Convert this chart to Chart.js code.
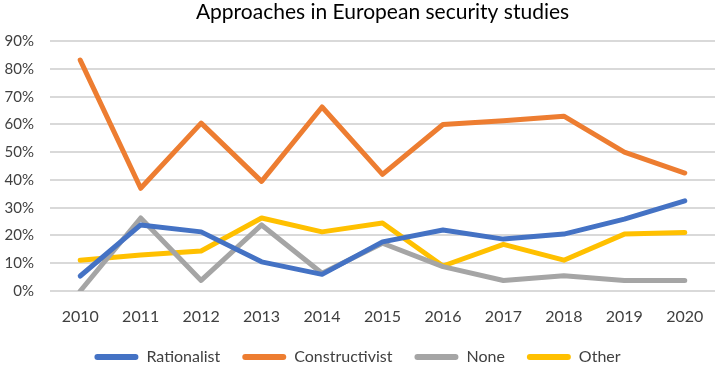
<!DOCTYPE html>
<html>
<head>
<meta charset="utf-8">
<script src="https://cdn.jsdelivr.net/npm/chart.js@4.4.1/dist/chart.umd.min.js"></script>
<style>
  html, body { margin: 0; padding: 0; background: #fff; }
  #wrap { width: 718px; height: 369px; }
</style>
</head>
<body>
<div id="wrap"><canvas id="chart"></canvas></div>
<script>
// years on the x axis
const years = ["2010", "2011", "2012", "2013", "2014", "2015", "2016", "2017", "2018", "2019", "2020"];

// shares (fractions)
const rationalist = [0.054, 0.238, 0.213, 0.105, 0.060, 0.177, 0.220, 0.187, 0.205, 0.259, 0.325];
const constructivist = [0.832, 0.370, 0.605, 0.395, 0.663, 0.420, 0.600, 0.613, 0.630, 0.500, 0.425];
const none = [0.000, 0.263, 0.038, 0.238, 0.064, 0.172, 0.088, 0.038, 0.055, 0.038, 0.038];
const other = [0.111, 0.130, 0.144, 0.263, 0.213, 0.245, 0.090, 0.168, 0.111, 0.205, 0.211];

const FONT = "Lato, 'Open Sans', sans-serif";

function line(label, data, color) {
  return {
    label: label,
    data: data,
    borderColor: color,
    backgroundColor: color,
    borderWidth: 5,
    pointRadius: 0,
    tension: 0,
    borderCapStyle: "round",
    borderJoinStyle: "round",
    fill: false
  };
}

const ctx = document.getElementById("chart").getContext("2d");

new Chart(ctx, {
  type: "line",
  data: {
    labels: years,
    datasets: [
      line("Rationalist", rationalist, "#4472C4"),
      line("Constructivist", constructivist, "#ED7D31"),
      line("None", none, "#A5A5A5"),
      line("Other", other, "#FFC000")
    ]
  },
  options: {
    responsive: true,
    maintainAspectRatio: false,
    animation: false,
    layout: { padding: { left: 0, right: 3, top: 0, bottom: -6 } },
    plugins: {
      title: {
        display: true,
        fullSize: false,
        text: "Approaches in European security studies",
        color: "#000000",
        font: { family: FONT, size: 21, weight: "normal" },
        padding: { top: 0, bottom: 16 }
      },
      legend: {
        position: "bottom",
        labels: {
          color: "#404040",
          font: { family: FONT, size: 16 },
          boxWidth: 44,
          boxHeight: 6,
          padding: 22,
          useBorderRadius: true,
          borderRadius: 3,
          generateLabels: function (chart) {
            const items = Chart.defaults.plugins.legend.labels.generateLabels(chart);
            items.forEach(function (it) { it.lineWidth = 0; });
            return items;
          }
        }
      },
      tooltip: { enabled: false }
    },
    scales: {
      x: {
        offset: true,
        grid: { display: false },
        border: { display: false },
        ticks: { color: "#404040", font: { family: FONT, size: 16 }, padding: 8 },
        afterFit: function (s) { s.height = 36; }
      },
      y: {
        min: 0,
        max: 0.9,
        grid: { color: "#D9D9D9", lineWidth: 2, drawTicks: false },
        border: { display: false },
        ticks: {
          stepSize: 0.1,
          color: "#404040",
          font: { family: FONT, size: 15 },
          padding: 16,
          callback: function (v) { return Math.round(v * 100) + "%"; }
        },
        afterFit: function (s) { s.width = 50; }
      }
    }
  }
});
</script>
</body>
</html>
